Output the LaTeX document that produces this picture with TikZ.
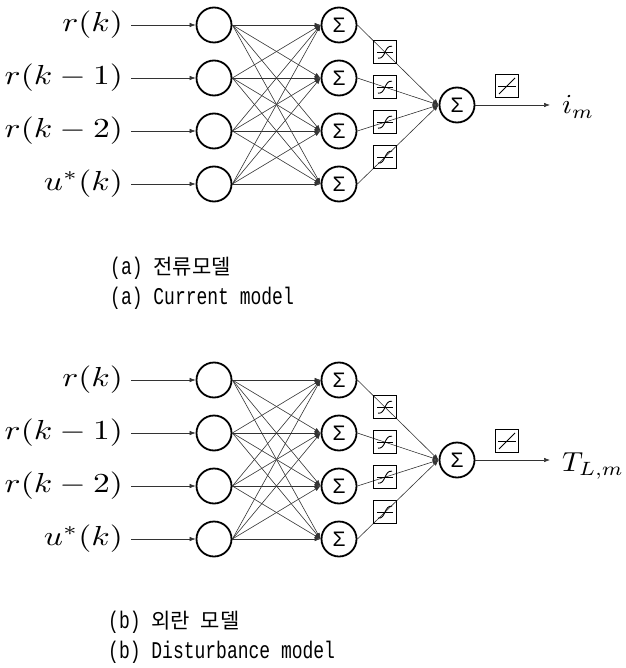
\documentclass[tikz,border=0pt]{standalone}
\usepackage{fontspec}
\usepackage{graphicx}
\usetikzlibrary{calc,arrows.meta}
\newfontfamily\krfam{Noto Sans CJK KR}
\newfontfamily\latfam[FakeStretch=0.75]{Liberation Mono}
\newfontfamily\sigfam{Liberation Sans}
\newcommand\krf{\krfam\fontsize{21}{24}\selectfont}
\newcommand\latf{\latfam\fontsize{24}{26}\selectfont}
\newcommand\bigmath[1]{\scalebox{3.35}[2.75]{$#1$}}
\newcommand\outmath[1]{\scalebox{2.9}[2.75]{$#1$}}
\tikzset{
  neuron/.style={circle, draw, line width=1.8pt, minimum size=35pt, inner sep=0pt},
  sumnode/.style={neuron, font=\sigfam\fontsize{21}{21}\selectfont},
  lab/.style={anchor=east, inner sep=0pt, outer xsep=8pt},
  outlab/.style={anchor=base west, inner sep=0pt},
  conn/.style={line width=0.6pt, draw=black!80, -{Latex[length=6pt,width=4.5pt]}},
  actbox/.style={draw, line width=0.8pt, minimum size=23pt, inner sep=0pt},
  sigbox/.style={actbox, path picture={
      \draw[line width=0.5pt, shift={(path picture bounding box.center)}] (-8,0) -- (8,0);
      \draw[line width=0.9pt, shift={(path picture bounding box.center)}]
        (-7,6) .. controls (1,7) and (-1,-7) .. (7,-6);}},
  linbox/.style={actbox, path picture={
      \draw[line width=0.5pt, shift={(path picture bounding box.center)}] (-9,0) -- (9,0);
      \draw[line width=0.9pt, shift={(path picture bounding box.center)}] (-8,8) -- (8,-8);}},
  captxt/.style={anchor=west, inner sep=0pt},
}
\newcommand\drawnet[4]{%
  \foreach \i/\yy/\txt in {1/25/{r(k)},2/78/{r(k-1)},3/131/{r(k-2)},4/184/{u^*(k)}}{
    \node[neuron] (#1in\i) at (214,#2+\yy) {};
    \node[sumnode] (#1h\i) at (339,#2+\yy) {Σ};
    \node[lab] (#1lab\i) at (131,#2+\yy) {\bigmath{\txt}};
    \draw[conn] (#1lab\i.east |- #1in\i) -- (#1in\i.west);
  }
  \node[sumnode] (#1out) at (457,#2+105) {Σ};
  \foreach \i in {1,...,4}{
    \foreach \j in {1,...,4}{
      \draw[conn] (#1in\i.east) -- (#1h\j.west);
    }
  }
  \foreach \i in {1,...,4}{
    \draw[conn] (#1h\i.east) -- (#1out.west);
    \node[sigbox] (#1s\i) at ($(#1h\i.east)!0.34!(#1out.west)$) {};
  }
  \coordinate (#1end) at (550,#2+105);
  \draw[conn] (#1out.east) -- (#1end);
  \node[linbox] (#1lin) at (507,#2+86) {};
  \node[outlab] (#1olab) at (562,#2+105+#4) {\outmath{#3}};
}
\begin{document}
\begin{tikzpicture}[x=1pt,y=-1pt]
\useasboundingbox (0,0) rectangle (625,668);
\drawnet{a}{0}{i_m}{9}
\drawnet{b}{355}{T_{L,m}}{11}
\node[captxt] (capa1) at (110,268) {\latf(a)\ {\krf 전류모델}};
\node[captxt] (capa2) at (110,298) {\latf(a) Current model};
\node[captxt] (capb1) at (108,622) {\latf(b)\ {\krf 외란}\ {\krf 모델}};
\node[captxt] (capb2) at (108,652) {\latf(b) Disturbance model};
\end{tikzpicture}
\end{document}
